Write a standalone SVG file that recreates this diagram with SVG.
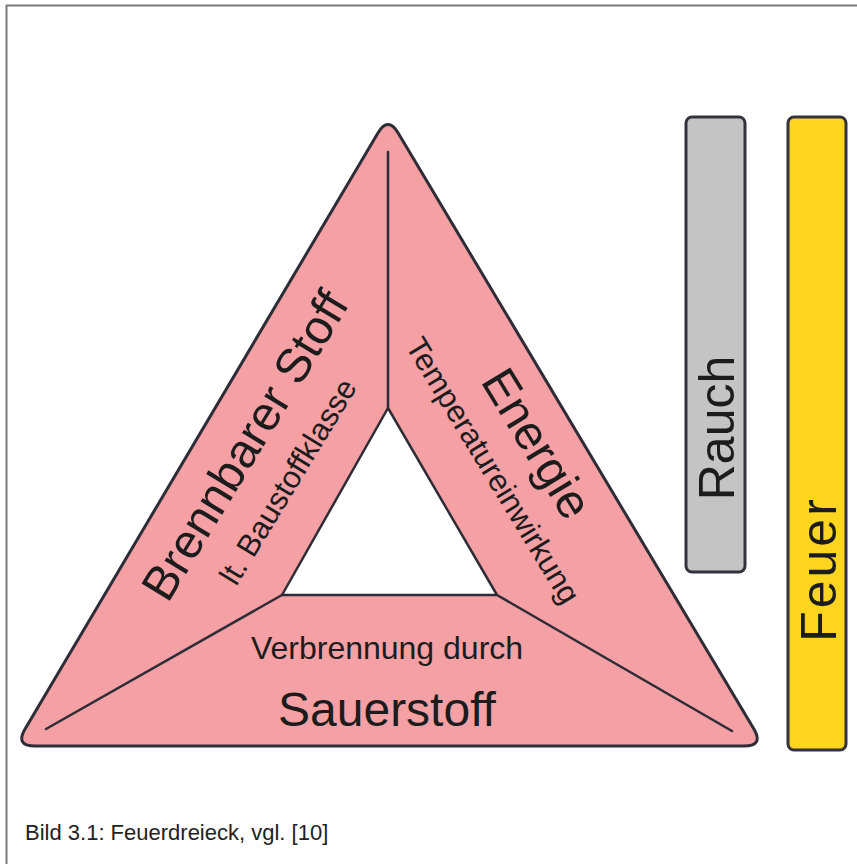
<svg xmlns="http://www.w3.org/2000/svg" width="857" height="864" viewBox="0 0 857 864">
<style>
.t{font-family:"Liberation Sans",Arial,Helvetica,sans-serif;fill:#1c1c1c;text-anchor:middle}
.big{font-size:48px}
.small{font-size:31px}
.div{stroke:#2e2c36;stroke-width:2.5;fill:none;stroke-linecap:round}
.bar{stroke:#34323a;stroke-width:3}
</style>
<rect width="857" height="864" fill="#ffffff"/>
<path d="M6.5 864 V5.5 H857" fill="none" stroke="#7a7a7a" stroke-width="2"/>
<g id="triangle">
<path d="M398.3,133.2 L753.75,728.8 Q764,746 744,746 L35,746 Q15,746 25.2,728.8 L377.8,133.2 Q388,116 398.3,133.2 Z" fill="#F4A0A4" stroke="#2e2c36" stroke-width="3" stroke-linejoin="round"/>
<polygon points="388,408 497,595 282,595" fill="#ffffff" stroke="#2e2c36" stroke-width="2.5" stroke-linejoin="round"/>
</g>
<g id="connectors">
<line class="div" x1="388" y1="408" x2="388" y2="152"/>
<line class="div" x1="282" y1="595" x2="46" y2="729"/>
<line class="div" x1="497" y1="595" x2="732" y2="731"/>
</g>
<g id="brennbarer-stoff">
<text class="t big" transform="translate(259,454) rotate(-58.7)">Brennbarer Stoff</text>
<text class="t small" transform="translate(297,487) rotate(-58.7)">lt. Baustoffklasse</text>
</g>
<g id="energie">
<text class="t big" transform="translate(523,452) rotate(58.7)">Energie</text>
<text class="t small" transform="translate(484,476) rotate(58.7)">Temperatureinwirkung</text>
</g>
<g id="sauerstoff">
<text class="t" style="font-size:32px" x="387" y="659">Verbrennung durch</text>
<text class="t big" x="387" y="726">Sauerstoff</text>
</g>
<g id="rauch">
<rect class="bar" x="686" y="117" width="59" height="455" rx="6" fill="#C4C4C4"/>
<text class="t" style="font-size:50px" transform="translate(734,428) rotate(-90)">Rauch</text>
</g>
<g id="feuer">
<rect class="bar" x="788" y="117" width="58" height="633" rx="6" fill="#FDD520"/>
<text class="t" style="font-size:50px;letter-spacing:3px" transform="translate(836,569) rotate(-90)">Feuer</text>
</g>
<text x="25" y="840" style="font-family:'Liberation Sans',Arial,sans-serif;font-size:22px;fill:#222">Bild 3.1: Feuerdreieck, vgl. [10]</text>
</svg>
